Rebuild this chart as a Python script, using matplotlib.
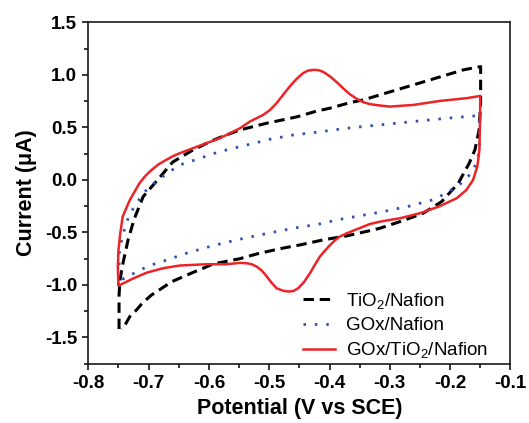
import matplotlib
matplotlib.use("Agg")
import matplotlib.pyplot as plt
from matplotlib.ticker import MultipleLocator

plt.rcParams['font.family'] = ['Liberation Sans', 'DejaVu Sans']
plt.rcParams['mathtext.fontset'] = 'custom'
plt.rcParams['mathtext.rm'] = 'Liberation Sans'
plt.rcParams['mathtext.default'] = 'regular'

# Cyclic voltammograms: potential (V vs SCE) and current (uA), traced around each loop
tio2_v = [-0.749, -0.749, -0.7475, -0.742, -0.734, -0.724, -0.709, -0.686, -0.660, -0.631,
          -0.600, -0.575, -0.5485, -0.504, -0.4545, -0.4214, -0.3993, -0.366, -0.344, -0.289,
          -0.2335, -0.178, -0.1495, -0.1495, -0.152, -0.159, -0.1684, -0.1866, -0.2141, -0.2446,
          -0.2778, -0.3164, -0.333, -0.3716, -0.4104, -0.449, -0.4822, -0.5208, -0.5485, -0.575,
          -0.593, -0.609, -0.626, -0.642, -0.662, -0.675, -0.695, -0.710, -0.720, -0.731,
          -0.740, -0.745]
tio2_i = [-1.42, -1.10, -0.95, -0.78, -0.57, -0.374, -0.159, -0.006, 0.17, 0.27,
          0.36, 0.42, 0.476, 0.54, 0.60, 0.655, 0.683, 0.736, 0.762, 0.857,
          0.952, 1.048, 1.079, 0.73, 0.476, 0.286, 0.159, -0.032, -0.207, -0.317,
          -0.387, -0.46, -0.483, -0.533, -0.571, -0.619, -0.655, -0.705, -0.75, -0.78,
          -0.80, -0.84, -0.88, -0.92, -0.97, -1.02, -1.095, -1.17, -1.238, -1.30,
          -1.39, -1.42]

gox_v = [-0.749, -0.749, -0.7486, -0.7447, -0.739, -0.732, -0.720, -0.706, -0.686, -0.665,
         -0.648, -0.623, -0.582, -0.543, -0.499, -0.460, -0.427, -0.3716, -0.3164, -0.2612,
         -0.2058, -0.1518, -0.1515, -0.155, -0.166, -0.1866, -0.2252, -0.2667, -0.311, -0.388,
         -0.416, -0.4545, -0.4933, -0.5153, -0.554, -0.5954, -0.637, -0.678, -0.700, -0.720,
         -0.742, -0.749]
gox_i = [-0.92, -0.83, -0.698, -0.571, -0.45, -0.333, -0.222, -0.111, -0.006, 0.079,
         0.143, 0.19, 0.27, 0.324, 0.387, 0.428, 0.45, 0.492, 0.524, 0.556,
         0.587, 0.613, 0.30, 0.174, 0.057, -0.057, -0.184, -0.248, -0.302, -0.381,
         -0.419, -0.455, -0.498, -0.524, -0.571, -0.629, -0.698, -0.778, -0.819, -0.876,
         -0.943, -0.92]

goxtio2_v = [-0.750, -0.751, -0.750, -0.747, -0.743, -0.737, -0.731, -0.723, -0.715, -0.705,
             -0.694, -0.683, -0.671, -0.660, -0.648, -0.618, -0.582, -0.549, -0.532, -0.510,
             -0.499, -0.488, -0.477, -0.466, -0.455, -0.444, -0.436, -0.427, -0.418, -0.410,
             -0.399, -0.388, -0.377, -0.366, -0.355, -0.344, -0.333, -0.322, -0.300, -0.261,
             -0.217, -0.173, -0.150, -0.1505, -0.1515, -0.155, -0.162, -0.173, -0.189, -0.219,
             -0.250, -0.283, -0.316, -0.333, -0.355, -0.372, -0.383, -0.391, -0.399, -0.407,
             -0.416, -0.424, -0.4325, -0.442, -0.452, -0.460, -0.468, -0.477, -0.4877, -0.496,
             -0.504, -0.512, -0.521, -0.529, -0.537, -0.5485, -0.571, -0.604, -0.648, -0.676,
             -0.703, -0.725, -0.7475, -0.750]
goxtio2_i = [-1.00, -0.83, -0.67, -0.51, -0.35, -0.27, -0.19, -0.11, -0.03, 0.04,
             0.10, 0.15, 0.19, 0.225, 0.255, 0.32, 0.397, 0.49, 0.556, 0.619,
             0.665, 0.73, 0.81, 0.889, 0.96, 1.016, 1.040, 1.048, 1.045, 1.027,
             0.985, 0.93, 0.87, 0.815, 0.772, 0.740, 0.722, 0.712, 0.698, 0.714,
             0.752, 0.778, 0.80, 0.57, 0.286, 0.127, 0.0, -0.095, -0.174, -0.254,
             -0.317, -0.365, -0.397, -0.42, -0.47, -0.51, -0.54, -0.575, -0.62, -0.67,
             -0.73, -0.805, -0.889, -0.97, -1.032, -1.058, -1.063, -1.055, -1.032, -0.98,
             -0.92, -0.865, -0.825, -0.803, -0.794, -0.790, -0.803, -0.803, -0.815, -0.841,
             -0.883, -0.937, -1.0, -1.0]

labels = ['TiO$_2$/Nafion', 'GOx/Nafion', 'GOx/TiO$_2$/Nafion']

fig = plt.figure(figsize=(5.29, 4.23), dpi=100)
ax = fig.add_axes([0.1669, 0.1402, 0.7981, 0.8069])

ax.plot(tio2_v, tio2_i, color='black', lw=2.2, dashes=(3.4, 1.9), label=labels[0])
ax.plot(gox_v, gox_i, color='#2f4fb3', lw=2.0, dashes=(0.9, 3.2), label=labels[1])
ax.plot(goxtio2_v, goxtio2_i, color='#ec2327', lw=1.8, label=labels[2])

ax.set_xlim(-0.8, -0.1)
ax.set_ylim(-1.75, 1.5)
ax.xaxis.set_minor_locator(MultipleLocator(0.05))
ax.yaxis.set_minor_locator(MultipleLocator(0.25))
ax.set_xticks([-0.8, -0.7, -0.6, -0.5, -0.4, -0.3, -0.2, -0.1])
ax.set_xticklabels(['-0.8', '-0.7', '-0.6', '-0.5', '-0.4', '-0.3', '-0.2', '-0.1'])
ax.set_yticks([-1.5, -1.0, -0.5, 0.0, 0.5, 1.0, 1.5])
ax.set_yticklabels(['-1.5', '-1.0', '-0.5', '0.0', '0.5', '1.0', '1.5'])

ax.tick_params(which='major', direction='out', length=4.5, width=1.1, labelsize=13.5, pad=3.5)
ax.tick_params(which='minor', direction='out', length=3.0, width=1.1)
for lab in ax.get_xticklabels() + ax.get_yticklabels():
    lab.set_fontweight('bold')
for sp in ax.spines.values():
    sp.set_linewidth(1.2)
    sp.set_color('#1a1a1a')

ax.set_xlabel('Potential (V vs SCE)', fontsize=15.5, fontweight='bold', labelpad=4.5)
ax.set_ylabel('Current (μA)', fontsize=15.5, fontweight='bold', labelpad=6)

leg = ax.legend(loc='upper left', bbox_to_anchor=(303 / 529, 1 - 291 / 423),
                bbox_transform=fig.transFigure, frameon=False, fontsize=13.5,
                handlelength=1.7, handletextpad=0.6, labelspacing=0.33,
                borderpad=0, borderaxespad=0)

fig.savefig('out.png', dpi=100)
